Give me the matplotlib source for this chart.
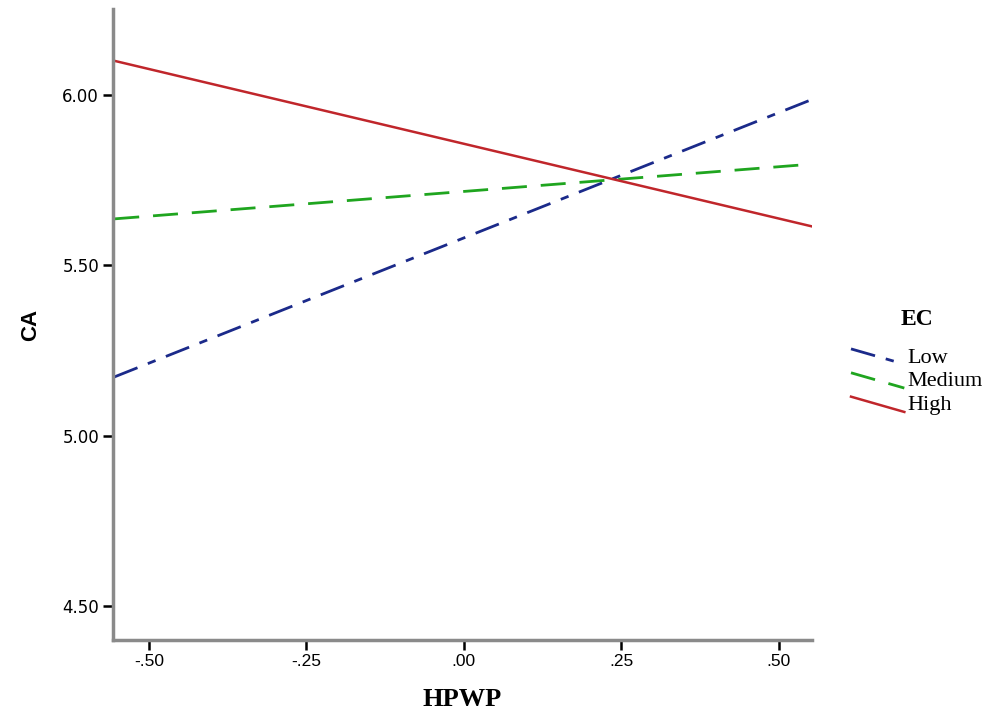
import matplotlib
matplotlib.use("Agg")
import matplotlib.pyplot as plt
from matplotlib.legend_handler import HandlerBase
from matplotlib.lines import Line2D

# Data
hpwp = [-0.555, 0.555]
ca_low = [5.172, 5.988]
ca_medium = [5.636, 5.797]
ca_high = [6.100, 5.613]
series_names = ["Low", "Medium", "High"]
x_ticks = [-0.50, -0.25, 0.00, 0.25, 0.50]
x_tick_labels = ["-.50", "-.25", ".00", ".25", ".50"]
y_ticks = [4.50, 5.00, 5.50, 6.00]
y_tick_labels = ["4.50", "5.00", "5.50", "6.00"]


class SlantHandler(HandlerBase):
    def create_artists(self, legend, orig, xdescent, ydescent, width, height,
                       fontsize, trans):
        x0 = -xdescent
        x1 = -xdescent + width
        line = Line2D([x0, x1], [height * 0.85 - ydescent, -ydescent - height * 0.05])
        line.update_from(orig)
        line.set_clip_on(False)
        line.set_clip_box(None)
        line.set_clip_path(None)
        line.set_transform(trans)
        return [line]


fig = plt.figure(figsize=(10.04, 7.11), dpi=100)
ax = fig.add_axes([113 / 1004, (711 - 640) / 711, (812 - 113) / 1004, (640 - 9) / 711])

l1, = ax.plot(hpwp, ca_low, color="#1b2a8a", lw=2.0, linestyle=(0, (9, 4, 3, 4)),
              label=series_names[0])
l2, = ax.plot(hpwp, ca_medium, color="#1fa51f", lw=2.0, linestyle=(0, (9, 5)),
              label=series_names[1])
l3, = ax.plot(hpwp, ca_high, color="#c0262b", lw=1.8, linestyle="-",
              label=series_names[2])

ax.set_xlim(-0.557, 0.553)
ax.set_ylim(4.40, 6.252)

for s in ["top", "right"]:
    ax.spines[s].set_visible(False)
for s in ["left", "bottom"]:
    ax.spines[s].set_color("#8a8a8a")
    ax.spines[s].set_linewidth(2.5)

ax.set_xticks(x_ticks)
ax.set_xticklabels(x_tick_labels, fontfamily="Liberation Sans", fontsize=12.5)
ax.set_yticks(y_ticks)
ax.set_yticklabels(y_tick_labels, fontfamily="DejaVu Sans", fontsize=12)
ax.tick_params(axis="both", direction="out", length=7, width=1.8, color="black",
               pad=3)

ax.set_xlabel("HPWP", fontfamily="Liberation Serif", fontsize=19, fontweight="bold",
              labelpad=14)
ax.set_ylabel("CA", fontfamily="Liberation Sans", fontsize=16, fontweight="bold",
              labelpad=15)

leg = fig.legend(handles=[l1, l2, l3], labels=series_names, title="EC",
                 loc="center left", bbox_to_anchor=(831 / 1004, (711 - 362) / 711),
                 frameon=False, handler_map={Line2D: SlantHandler()},
                 handlelength=2.4, handleheight=0.8, handletextpad=0.15,
                 labelspacing=0.12, borderaxespad=0.5,
                 prop={"family": "Liberation Serif", "size": 16},
                 title_fontproperties={"family": "Liberation Serif", "size": 17,
                                       "weight": "bold"})
leg._legend_box.align = "center"
leg._legend_box.sep = 12

fig.savefig("out.png", dpi=100)
